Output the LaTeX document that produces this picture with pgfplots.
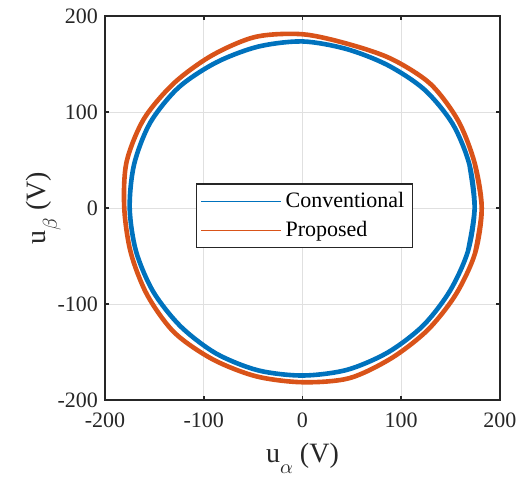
\documentclass[border=0pt]{standalone}
\usepackage{fontspec}
\setmainfont{Liberation Serif}
\usepackage{pgfplots}
\pgfplotsset{compat=1.18}
\definecolor{mblue}{rgb}{0,0.447,0.741}
\definecolor{morange}{rgb}{0.85,0.325,0.098}
\definecolor{axgray}{rgb}{0.15,0.15,0.15}
\begin{document}
\begin{tikzpicture}
\path[use as bounding box] (-52.5pt,-38.5pt) rectangle (207.5pt,200pt);
\begin{axis}[
  scale only axis, width=197.5pt, height=192pt,
  xmin=-200, xmax=200, ymin=-200, ymax=200,
  xtick={-200,-100,0,100,200}, ytick={-200,-100,0,100,200},
  grid=major, major grid style={black!12, line width=0.5pt},
  axis line style={axgray, line width=0.9pt},
  tick style={axgray, line width=0.9pt},
  major tick length=2.2pt,
  tick align=inside, tick pos=both,
  ticklabel style={font=\fontsize{11}{13}\selectfont, text=axgray},
  xticklabel style={yshift=-3pt},
  /pgf/number format/assume math mode=true,
  xlabel={u\raisebox{-0.4em}{\fontsize{10}{10}\selectfont$\alpha$}\ (V)},
  ylabel={u\raisebox{-0.4em}{\fontsize{10}{10}\selectfont$\beta$}\ (V)},
  label style={font=\fontsize{14}{16}\selectfont, text=axgray},
  xlabel style={yshift=-0.5pt},
  ylabel style={yshift=-8.5pt},
  legend style={at={(0.2304,0.5643)}, anchor=north west,
    font=\fontsize{11}{13}\selectfont, draw=axgray, line width=0.6pt,
    inner sep=2pt, row sep=1.5pt},
  legend cell align=left,
  legend image code/.code={\draw[#1, line width=0.5pt] (0pt,0pt) -- (40pt,0pt);},
]
% (angle in degrees, radius in V)
\addplot[mblue, line width=2.3pt, smooth, data cs=polar] coordinates {
(-15,173.5) (0,174.3) (15,175) (30,175.5) (45,174.5) (60,172) (75,171.5) (90,173.5)
(105,174) (120,175) (135,177.5) (150,178) (165,176.5) (180,175) (195,174.5)
(210,174.5) (225,174.5) (240,175) (255,175) (270,174.5) (285,174.5) (300,173.5)
(315,173) (330,172.5) (345,173.5) (360,174.3) (375,175)
};
\addlegendentry{Conventional}
\addplot[morange, line width=2.3pt, smooth, data cs=polar] coordinates {
(-15,181) (0,181.5) (15,180.5) (30,182) (45,183) (60,179.5) (75,177) (90,181)
(105,184.5) (120,183.5) (135,184) (150,185.5) (165,184.5) (180,180.5) (195,180)
(210,181.5) (225,183.5) (240,182) (255,181.5) (270,181.5) (285,183.5) (300,180.5)
(315,179.5) (330,179.5) (345,181) (360,181.5) (375,180.5)
};
\addlegendentry{Proposed}
\end{axis}
\end{tikzpicture}
\end{document}
